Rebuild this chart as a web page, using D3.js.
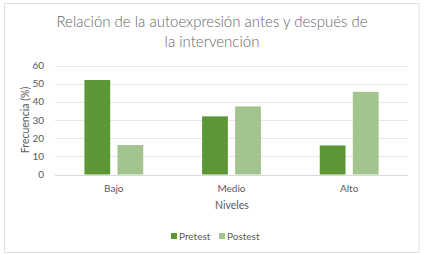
<!doctype html>
<html lang="es">
<head>
<meta charset="utf-8">
<title>Autoexpresión</title>
<script src="https://d3js.org/d3.v7.min.js"></script>
<style>
  body { margin: 0; background: #fff; }
  text { font-family: Lato, "Liberation Sans", sans-serif; fill: #595959; }
</style>
</head>
<body>
<div id="chart"></div>
<script>
// data
var niveles = ["Bajo", "Medio", "Alto"];
var series = ["Pretest", "Postest"];
var pretest = [52, 32, 16];
var postest = [16.2, 37.5, 45.5];
var yTicks = [0, 10, 20, 30, 40, 50, 60];
var colors = ["#5b9637", "#a3c48d"];

var W = 424, H = 255;
var plot = {left: 55, right: 408, top: 65.5, bottom: 174.5};

var svg = d3.select("#chart").append("svg")
    .attr("width", W)
    .attr("height", H);

// frame
svg.append("rect")
    .attr("x", 4.5).attr("y", 3.5)
    .attr("width", 414.5).attr("height", 249)
    .attr("fill", "#fff")
    .attr("stroke", "#e0e0e0");

// title
var title = svg.append("text")
    .attr("text-anchor", "middle")
    .style("font-size", "15px")
    .style("font-weight", 300)
    .style("fill", "#666");
title.append("tspan").attr("x", 212).attr("y", 27).text("Relación de la autoexpresión antes y después de");
title.append("tspan").attr("x", 212).attr("y", 47).text("la intervención");

var x0 = d3.scaleBand()
    .domain(niveles)
    .range([plot.left, plot.right])
    .paddingInner(0.5)
    .paddingOuter(0.25);

var x1 = d3.scaleBand()
    .domain(series)
    .range([0, x0.bandwidth()])
    .paddingInner(0.22);

var y = d3.scaleLinear()
    .domain([0, 60])
    .range([plot.bottom, plot.top]);

// gridlines
svg.append("g")
  .selectAll("line")
  .data(yTicks)
  .enter()
  .append("line")
    .attr("x1", plot.left).attr("x2", plot.right)
    .attr("y1", function(d) { return Math.round(y(d)) + 0.5; })
    .attr("y2", function(d) { return Math.round(y(d)) + 0.5; })
    .attr("stroke", function(d) { return d === 0 ? "#d9d9d9" : "#e6e6e6"; })
    .attr("stroke-width", 1);

// y tick labels
svg.append("g")
  .selectAll("text")
  .data(yTicks)
  .enter()
  .append("text")
    .attr("x", 44)
    .attr("y", function(d) { return y(d); })
    .attr("dy", "0.35em")
    .attr("text-anchor", "end")
    .style("font-size", "10px")
    .text(function(d) { return d; });

// y axis title
svg.append("text")
    .attr("transform", "translate(29,120) rotate(-90)")
    .attr("text-anchor", "middle")
    .style("font-size", "10.5px")
    .text("Frecuencia (%)");

// bars
var rows = niveles.map(function(n, i) {
  return {nivel: n, values: [pretest[i], postest[i]]};
});

var groups = svg.append("g")
  .selectAll("g")
  .data(rows)
  .enter()
  .append("g")
    .attr("transform", function(d) { return "translate(" + x0(d.nivel) + ",0)"; });

groups.selectAll("rect")
  .data(function(d) { return d.values.map(function(v, j) { return {s: series[j], v: v, j: j}; }); })
  .enter()
  .append("rect")
    .attr("x", function(d) { return x1(d.s); })
    .attr("width", x1.bandwidth())
    .attr("y", function(d) { return y(d.v); })
    .attr("height", function(d) { return y(0) - y(d.v); })
    .attr("fill", function(d) { return colors[d.j]; });

// category labels
svg.append("g")
  .selectAll("text")
  .data(niveles)
  .enter()
  .append("text")
    .attr("x", function(d) { return x0(d) + x0.bandwidth() / 2; })
    .attr("y", 191.5)
    .attr("text-anchor", "middle")
    .style("font-size", "10px")
    .text(function(d) { return d; });

// x axis title
svg.append("text")
    .attr("x", 232)
    .attr("y", 209)
    .attr("text-anchor", "middle")
    .style("font-size", "10.5px")
    .text("Niveles");

// legend
var legendX = [171, 219];
var legend = svg.append("g")
  .selectAll("g")
  .data(series)
  .enter()
  .append("g")
    .attr("transform", function(d, i) { return "translate(" + legendX[i] + ",236)"; });

legend.append("rect")
    .attr("x", 0).attr("y", -3)
    .attr("width", 6).attr("height", 6)
    .attr("fill", function(d, i) { return colors[i]; });

legend.append("text")
    .attr("x", 8)
    .attr("y", 0)
    .attr("dy", "0.35em")
    .style("font-size", "10px")
    .text(function(d) { return d; });
</script>
</body>
</html>
